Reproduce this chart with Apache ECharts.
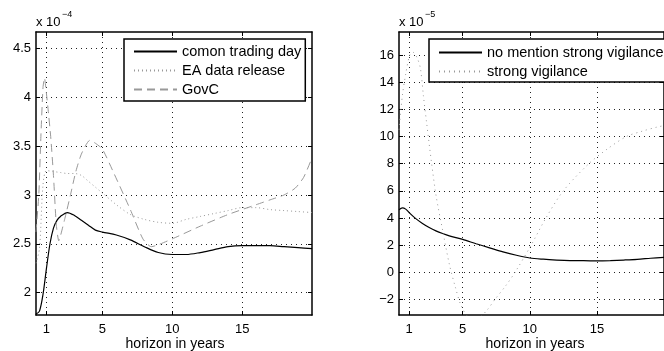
<!DOCTYPE html>
<html>
<head>
<meta charset="utf-8">
<script src="https://cdn.jsdelivr.net/npm/echarts@6/dist/echarts.min.js"></script>
<style>
  html, body { margin: 0; padding: 0; background: #fff; }
  #chart { width: 664px; height: 351px; }
</style>
</head>
<body>
<div id="chart"></div>
<script>
// left panel (x 10^-4)
const tradingX = [0.25, 0.5, 0.75, 1, 1.25, 1.5, 1.75, 2, 2.5, 3, 3.5, 4, 4.5, 5, 6, 7, 8, 9, 10, 11, 12, 13, 14, 15, 16, 17, 18, 19, 20]
const tradingY = [1.78, 1.81, 1.98, 2.25, 2.5, 2.66, 2.74, 2.78, 2.82, 2.79, 2.74, 2.69, 2.64, 2.62, 2.59, 2.54, 2.47, 2.41, 2.39, 2.39, 2.41, 2.44, 2.47, 2.48, 2.48, 2.48, 2.47, 2.46, 2.45]
const releaseX = [0.25, 0.5, 0.75, 1, 1.5, 2, 2.5, 3, 3.5, 4, 4.5, 5, 6, 7, 8, 9, 10, 11, 12, 13, 14, 15, 16, 17, 18, 19, 20]
const releaseY = [2.3, 2.45, 3.1, 3.25, 3.24, 3.23, 3.22, 3.22, 3.2, 3.14, 3.08, 3.02, 2.9, 2.8, 2.75, 2.72, 2.71, 2.75, 2.78, 2.81, 2.84, 2.87, 2.87, 2.85, 2.84, 2.83, 2.82]
const govcX = [0.25, 0.45, 0.6, 0.75, 0.86, 0.95, 1.1, 1.3, 1.5, 1.7, 1.88, 2, 2.3, 2.7, 3.1, 3.5, 4.1, 4.5, 5, 5.8, 7, 7.9, 8.5, 9, 10, 12, 14, 16, 17, 18, 18.8, 19.4, 20]
const govcY = [2.62, 3.0, 3.6, 4.1, 4.2, 4.1, 3.9, 3.6, 3.2, 2.7, 2.53, 2.58, 2.75, 2.99, 3.24, 3.42, 3.56, 3.53, 3.47, 3.23, 2.85, 2.55, 2.47, 2.49, 2.55, 2.68, 2.8, 2.9, 2.95, 3.0, 3.07, 3.18, 3.38]

// right panel (x 10^-5)
const noMentionX = [0.25, 0.5, 0.75, 1, 1.5, 2, 2.5, 3, 3.5, 4, 5, 6, 7, 8, 9, 10, 11, 12, 13, 14, 15, 16, 17, 18, 19, 20]
const noMentionY = [4.6, 4.74, 4.65, 4.4, 3.95, 3.6, 3.3, 3.05, 2.85, 2.68, 2.42, 2.1, 1.8, 1.5, 1.25, 1.05, 0.96, 0.9, 0.86, 0.85, 0.84, 0.86, 0.9, 0.95, 1.03, 1.1]
const vigilanceX = [0.25, 0.5, 0.75, 1.05, 1.3, 1.6, 1.85, 2.07, 2.31, 2.67, 3.02, 3.5, 4, 4.45, 4.9, 5.5, 6.2, 6.8, 7.4, 8.2, 8.9, 10.1, 11.2, 12.5, 14.4, 15.8, 17.2, 18.4, 19.5, 20]
const vigilanceY = [10.5, 13, 14.6, 16, 16.2, 15.8, 15, 13, 11, 8.1, 5.6, 3.1, 0.6, -1.1, -2.5, -3.3, -3.3, -2.8, -2, -1, 0, 2, 4, 6, 8, 9.1, 10, 10.4, 10.7, 10.8]

const xTicks = [1, 5, 10, 15]
const leftYTicks = [2, 2.5, 3, 3.5, 4, 4.5]
const rightYTicks = [-2, 0, 2, 4, 6, 8, 10, 12, 14, 16]
const xTitle = 'horizon in years'

const font = 'Liberation Sans, Arial, Helvetica, sans-serif'
const zip = (xs, ys) => xs.map((x, i) => [x, ys[i]])

const chart = echarts.init(document.getElementById('chart'))

function xAxes(gridIndex) {
  const base = {
    type: 'value', gridIndex, min: 0.25, max: 20,
    axisLine: { show: true, onZero: false, lineStyle: { color: '#000', width: 1.5 } },
    axisTick: { show: true, inside: true, length: 4, customValues: xTicks, lineStyle: { color: '#000' } },
  }
  return [
    {
      ...base, position: 'bottom',
      axisLabel: { customValues: xTicks, color: '#000', fontSize: 13, fontFamily: font, margin: 8 },
      splitLine: { show: true, lineStyle: { color: '#222', width: 1, type: [1, 4] } },
    },
    { ...base, position: 'top', axisLabel: { show: false }, splitLine: { show: false } },
  ]
}

function yAxes(gridIndex, min, max, ticks) {
  const base = {
    type: 'value', gridIndex, min, max,
    axisLine: { show: true, onZero: false, lineStyle: { color: '#000', width: 1.5 } },
    axisTick: { show: true, inside: true, length: 4, customValues: ticks, lineStyle: { color: '#000' } },
  }
  return [
    {
      ...base, position: 'left',
      axisLabel: {
        customValues: ticks, color: '#000', fontSize: 13, fontFamily: font, margin: 5,
        formatter: (v) => String(v).replace('-', '\u2212'),
      },
      splitLine: { show: true, lineStyle: { color: '#222', width: 1, type: [1, 4] } },
    },
    { ...base, position: 'right', axisLabel: { show: false }, splitLine: { show: false } },
  ]
}

const legendBase = {
  orient: 'vertical', backgroundColor: '#fff', borderColor: '#000', borderWidth: 1.5, borderRadius: 0,
  itemWidth: 43, itemHeight: 14, itemGap: 4,
  itemStyle: { opacity: 0 },
  textStyle: { color: '#000', fontSize: 14.5, fontFamily: font },
}

const textStyle = (text, size) => ({ text, fill: '#000', fontSize: size, fontFamily: font })

const option = {
  animation: false,
  backgroundColor: '#fff',
  grid: [
    { left: 36, top: 32, width: 276, height: 283 },
    { left: 399, top: 32, width: 276, height: 283 },
  ],
  xAxis: [...xAxes(0), ...xAxes(1)],
  yAxis: [...yAxes(0, 1.77, 4.67, leftYTicks), ...yAxes(1, -3.15, 17.7, rightYTicks)],
  legend: [
    { ...legendBase, left: 124, top: 39, padding: [5, 4, 4, 9], data: ['comon trading day', 'EA data release', 'GovC'] },
    { ...legendBase, left: 429, top: 39, padding: [6, 8, 3, 9], data: ['no mention strong vigilance', 'strong vigilance'] },
  ],
  graphic: [
    { type: 'text', left: 36, top: 16, style: textStyle('x 10', 13) },
    { type: 'text', left: 62, top: 10, style: textStyle('\u22124', 9) },
    { type: 'text', left: 399, top: 16, style: textStyle('x 10', 13) },
    { type: 'text', left: 425, top: 10, style: textStyle('\u22125', 9) },
    { type: 'text', x: 175, y: 337, style: { ...textStyle(xTitle, 14), align: 'center' } },
    { type: 'text', x: 535, y: 337, style: { ...textStyle(xTitle, 14), align: 'center' } },
  ],
  series: [
    {
      name: 'comon trading day', type: 'line', xAxisIndex: 0, yAxisIndex: 0, symbol: 'none', smooth: 0.3,
      lineStyle: { color: '#000', width: 1.2 }, itemStyle: { color: '#000' },
      data: zip(tradingX, tradingY),
    },
    {
      name: 'EA data release', type: 'line', xAxisIndex: 0, yAxisIndex: 0, symbol: 'none', smooth: 0.3,
      lineStyle: { color: '#999', width: 1, type: [1, 3] }, itemStyle: { color: '#999' },
      data: zip(releaseX, releaseY),
    },
    {
      name: 'GovC', type: 'line', xAxisIndex: 0, yAxisIndex: 0, symbol: 'none', smooth: 0.2,
      lineStyle: { color: '#999', width: 1, type: [8, 5] }, itemStyle: { color: '#999' },
      data: zip(govcX, govcY),
    },
    {
      name: 'no mention strong vigilance', type: 'line', xAxisIndex: 2, yAxisIndex: 2, symbol: 'none', smooth: 0.3,
      lineStyle: { color: '#000', width: 1.2 }, itemStyle: { color: '#000' },
      data: zip(noMentionX, noMentionY),
    },
    {
      name: 'strong vigilance', type: 'line', xAxisIndex: 2, yAxisIndex: 2, symbol: 'none', smooth: 0.3,
      lineStyle: { color: '#999', width: 1, type: [1, 4] }, itemStyle: { color: '#999' },
      data: zip(vigilanceX, vigilanceY),
    },
  ],
}

chart.setOption(option)
</script>
</body>
</html>
